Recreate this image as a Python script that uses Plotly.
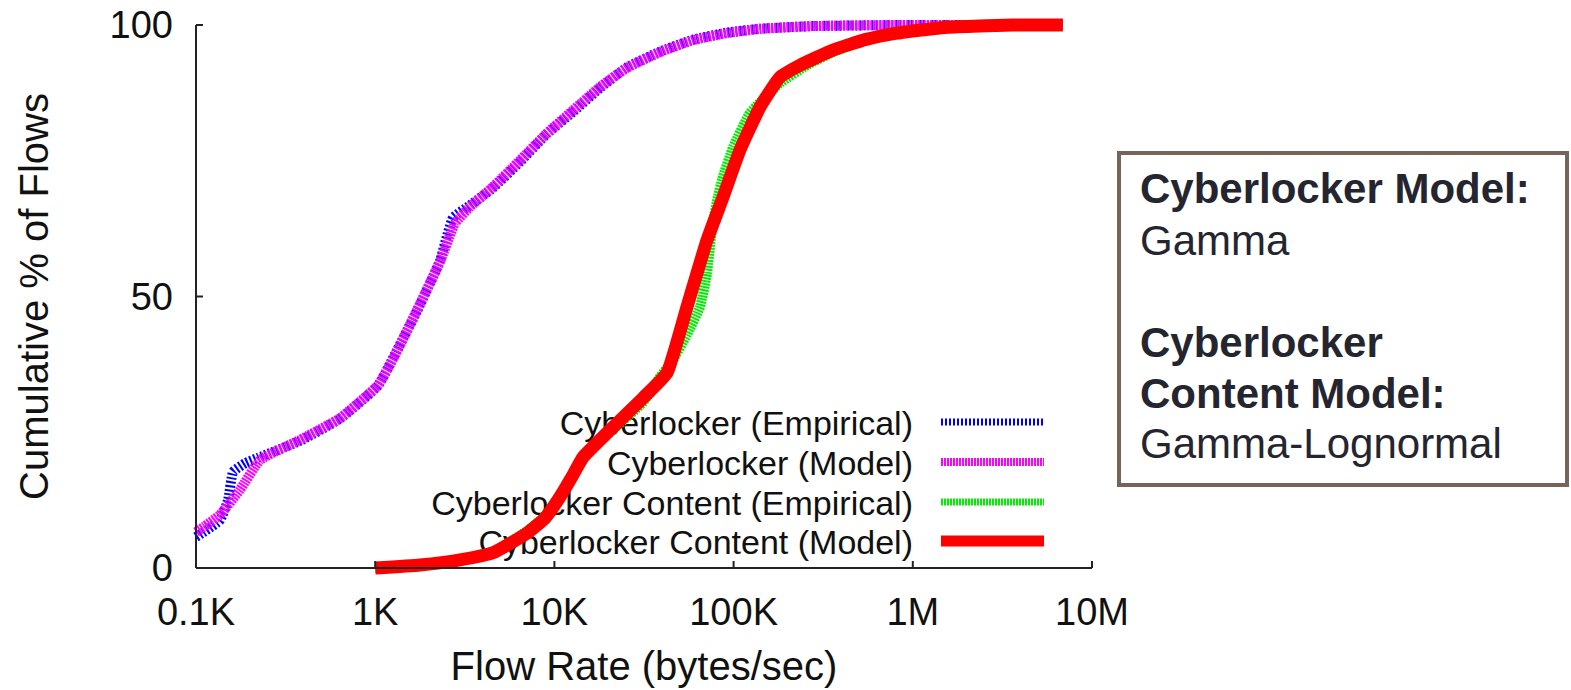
import math
import plotly.graph_objects as go

# ---------------- data (bytes/sec, cumulative % of flows) ----------------
cl_emp_x = [100, 136, 151, 161, 188, 222, 380, 636, 1038, 1290, 1710, 2300, 2718, 3380, 4540,
            6430, 9100, 12700, 17960, 25400, 38800, 59300, 91800, 140300, 277000, 849000, 6880000]
cl_emp_y = [5.7, 8.8, 12.5, 17.7, 19.3, 20.3, 23.4, 27.5, 33.6, 39.4, 47.3, 56.6, 64.5, 66.8, 70.0,
            74.8, 80.0, 84.0, 88.4, 92.2, 95.1, 97.3, 98.6, 99.3, 99.8, 100, 100]

cl_mod_x = [100, 112, 136, 176, 228, 380, 636, 1038, 1290, 1710, 2300, 2790, 3380, 4540,
            6430, 9100, 12700, 17960, 25400, 38800, 59300, 91800, 140300, 277000, 849000, 6880000]
cl_mod_y = [6.6, 7.7, 9.8, 14.4, 19.9, 23.6, 27.6, 33.7, 39.2, 47.5, 56.4, 63.5, 66.5, 70.2,
            75.1, 80.1, 84.3, 88.6, 92.1, 95.0, 97.2, 98.5, 99.3, 99.8, 100, 100]

cc_emp_x = [1000, 1778, 2972, 4539, 7031, 8870, 10740, 12530, 14450, 20420, 31200, 38800, 45300,
            54950, 64930, 71100, 75800, 81900, 86100, 99300, 123500, 181400, 257000, 359000,
            541000, 816000, 1552000, 3620000, 6880000]
cc_emp_y = [0, 0.6, 1.6, 3.0, 6.8, 9.6, 13.3, 17.2, 20.8, 25.0, 30.5, 35.2, 38.0,
            43.0, 48.1, 54.3, 62.8, 68.5, 71.5, 77.5, 83.8, 89.3, 92.6, 95.0,
            97.2, 98.5, 99.6, 100, 100]

cc_mod_x = [1000, 1778, 2972, 4539, 7031, 8870, 10740, 12530, 14450, 20420, 31200, 42460, 54950,
            71100, 87300, 108600, 140400, 181400, 234900, 359000, 541000, 816000, 1552000,
            3620000, 6880000]
cc_mod_y = [0, 0.55, 1.5, 2.8, 6.4, 9.2, 13.1, 16.8, 20.4, 25.4, 31.3, 35.9, 48.1,
            60.4, 68.3, 77.0, 84.9, 90.4, 92.6, 95.4, 97.3, 98.5, 99.6,
            100, 100]

series_names = ["Cyberlocker (Empirical)", "Cyberlocker (Model)",
                "Cyberlocker Content (Empirical)", "Cyberlocker Content (Model)"]
x_tick_vals = [1e2, 1e3, 1e4, 1e5, 1e6, 1e7]
x_tick_text = ["0.1K", "1K", "10K", "100K", "1M", "10M"]
y_tick_vals = [0, 50, 100]
y_tick_text = ["0", "50", "100"]
box_lines = [("<b>Cyberlocker Model:</b>", 188), ("Gamma", 240),
             ("<b>Cyberlocker</b>", 342), ("<b>Content Model:</b>", 393),
             ("Gamma-Lognormal", 444)]

# ---------------- geometry ----------------
W, H = 1571, 690
X0P, X1P = 196, 1092        # pixel positions of 1e2 and 1e7
Y0P, Y1P = 568, 25          # pixel positions of 0 and 100
PAD = 8
DEC = (X1P - X0P) / 5.0
UPP = (Y0P - Y1P) / 100.0
FONT = "Liberation Sans, Arial, sans-serif"


def fx(px):
    return px / W


def fy(py):
    return 1 - py / H


def x_px(v):
    return X0P + (math.log10(v) - 2) * DEC


def y_px(v):
    return Y0P - v * UPP


def px_to_x(px):
    return 10 ** (2 + (px - X0P) / DEC)


def py_to_y(py):
    return (Y0P - py) / UPP


styles = [
    dict(color="#0000ff", width=10, dash="2px,2px"),
    dict(color="#ff00ff", width=10, dash="2px,1px"),
    dict(color="#00ee00", width=10, dash="2px,1px"),
    dict(color="#ff0000", width=13, dash="solid"),
]
sample_widths = [7, 8, 7, 11]

fig = go.Figure()

# legend texts (drawn first so curves sit on top, as in the original)
legend_rows_py = [422, 462, 502, 541]
fig.add_trace(go.Scatter(
    x=[px_to_x(913)] * 4,
    y=[py_to_y(r + 4.5) for r in legend_rows_py],
    text=series_names, mode="text", textposition="middle left",
    textfont=dict(family=FONT, size=34, color="#111111"),
    showlegend=False, hoverinfo="skip", cliponaxis=False))

for xs, ys, name, st in zip([cl_emp_x, cl_mod_x, cc_emp_x, cc_mod_x],
                            [cl_emp_y, cl_mod_y, cc_emp_y, cc_mod_y],
                            series_names, styles):
    fig.add_trace(go.Scatter(x=xs, y=ys, name=name, mode="lines",
                             line=dict(color=st["color"], width=st["width"], dash=st["dash"],
                                       shape="spline", smoothing=0.4),
                             showlegend=False))

shapes = []
# axis lines
shapes.append(dict(type="line", xref="paper", yref="paper", x0=fx(X0P), x1=fx(X0P),
                   y0=fy(Y0P), y1=fy(Y1P), line=dict(color="#222222", width=2)))
shapes.append(dict(type="line", xref="paper", yref="paper", x0=fx(X0P), x1=fx(X1P),
                   y0=fy(Y0P), y1=fy(Y0P), line=dict(color="#222222", width=2)))
# inward ticks
for v in y_tick_vals:
    shapes.append(dict(type="line", xref="paper", yref="paper", x0=fx(X0P), x1=fx(X0P + 7),
                       y0=fy(y_px(v)), y1=fy(y_px(v)), line=dict(color="#222222", width=2)))
for v in x_tick_vals:
    shapes.append(dict(type="line", xref="paper", yref="paper", x0=fx(x_px(v)), x1=fx(x_px(v)),
                       y0=fy(Y0P), y1=fy(Y0P - 7), line=dict(color="#222222", width=2)))
# legend line samples
for r, st, sw in zip(legend_rows_py, styles, sample_widths):
    shapes.append(dict(type="line", xref="paper", yref="paper", x0=fx(941), x1=fx(1044),
                       y0=fy(r), y1=fy(r),
                       line=dict(color=st["color"], width=sw, dash=st["dash"])))
# model description box
shapes.append(dict(type="rect", xref="paper", yref="paper", x0=fx(1119), x1=fx(1567),
                   y0=fy(485), y1=fy(153), line=dict(color="#766458", width=4),
                   fillcolor="white"))

annotations = []
for txt, py in box_lines:
    annotations.append(dict(text=txt, xref="paper", yref="paper", x=fx(1138), y=fy(py),
                            xanchor="left", yanchor="middle", showarrow=False,
                            font=dict(family=FONT, size=42, color="#25252f")))

fig.update_layout(
    width=W, height=H,
    margin=dict(l=0, r=0, t=0, b=0, autoexpand=False),
    paper_bgcolor="white", plot_bgcolor="white",
    showlegend=False,
    shapes=shapes, annotations=annotations,
    font=dict(family=FONT, color="#111111"),
    xaxis=dict(type="log", range=[2 - PAD / DEC, 7 + PAD / DEC],
               domain=[fx(X0P - PAD), fx(X1P + PAD)], automargin=False,
               showgrid=False, zeroline=False, showline=False, ticks="",
               tickvals=x_tick_vals, ticktext=x_tick_text,
               tickfont=dict(family=FONT, size=38, color="#111111"),
               ticklabelstandoff=10,
               title=dict(text="Flow Rate (bytes/sec)", standoff=19,
                          font=dict(family=FONT, size=40, color="#111111"))),
    yaxis=dict(range=[-PAD / UPP, 100 + PAD / UPP],
               domain=[fy(Y0P + PAD), fy(Y1P - PAD)], automargin=False,
               showgrid=False, zeroline=False, showline=False, ticks="",
               tickvals=y_tick_vals, ticktext=y_tick_text,
               tickfont=dict(family=FONT, size=38, color="#111111"),
               ticklabelstandoff=14,
               title=dict(text="Cumulative % of Flows", standoff=48,
                          font=dict(family=FONT, size=40, color="#111111"))),
)

fig.write_html("out.html")
